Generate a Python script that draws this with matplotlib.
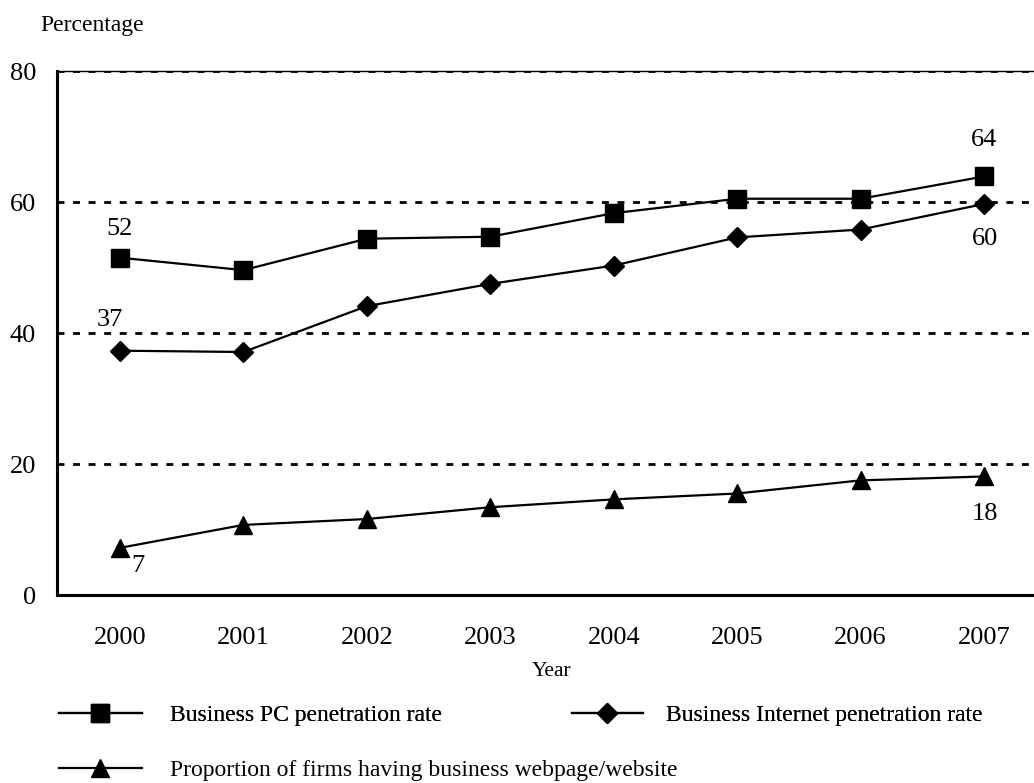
"""Business PC / Internet penetration and website ownership, 2000-2007."""
import matplotlib
matplotlib.use('agg')
import matplotlib.pyplot as plt
from matplotlib.lines import Line2D

plt.rcParams['font.family'] = ['Liberation Serif', 'DejaVu Serif']

years = [2000, 2001, 2002, 2003, 2004, 2005, 2006, 2007]
pc_rate = [51.5, 49.6, 54.4, 54.7, 58.3, 60.5, 60.5, 63.9]
internet_rate = [37.3, 37.1, 44.1, 47.5, 50.3, 54.6, 55.8, 59.7]
website_rate = [7.2, 10.7, 11.6, 13.4, 14.6, 15.5, 17.5, 18.1]

pc_label = 'Business PC penetration rate'
internet_label = 'Business Internet penetration rate'
website_label = 'Proportion of firms having business webpage/website'

y_ticks = [0, 20, 40, 60, 80]

# value labels: (series, index, text, offset in points)
annotations = [
    (pc_rate, 0, '52', (0, 21)),
    (internet_rate, 0, '37', (-7, 22)),
    (website_rate, 0, '7', (13, -13)),
    (pc_rate, 7, '64', (0, 26)),
    (internet_rate, 7, '60', (1, -25)),
    (website_rate, 7, '18', (1, -27)),
]

LW = 1.6
MARKERS = {'pc': ('s', 12.5), 'internet': ('D', 10), 'website': ('^', 13)}


def legend_entry(fig, key, label, x_px, y_px, handlelength, textpad):
    marker, ms = MARKERS[key]
    h = Line2D([], [], color='black', lw=LW, marker=marker, ms=ms)
    leg = fig.legend([h], [label], loc='center left',
                     bbox_to_anchor=(x_px / 1034, 1 - y_px / 783),
                     frameon=False, fontsize=17, handlelength=handlelength,
                     handletextpad=textpad, borderpad=0, borderaxespad=0,
                     numpoints=1)
    return leg


def main():
    fig = plt.figure(figsize=(10.34, 7.83), dpi=100)
    ax = fig.add_axes([57 / 1034, 0.2401, 1 - 57 / 1034, 0.6692])

    ax.set_xlim(1999.49, 2007.405)
    ax.set_ylim(0, 80)

    for y in y_ticks[1:]:
        ax.axhline(y, color='black', lw=2.0, dashes=(2.5, 3.1), zorder=1)

    style = dict(color='black', lw=LW, zorder=3)
    for key, series in (('pc', pc_rate), ('internet', internet_rate),
                        ('website', website_rate)):
        marker, ms = MARKERS[key]
        ax.plot(years, series, marker=marker, ms=ms, **style)

    for series, i, text, off in annotations:
        ax.annotate(text, (years[i], series[i]), xytext=off,
                    textcoords='offset points', ha='center', va='center',
                    fontsize=19)

    ax.spines['right'].set_visible(False)
    ax.spines['top'].set_linewidth(1.0)
    ax.spines['left'].set_linewidth(2.2)
    ax.spines['bottom'].set_linewidth(2.2)

    ax.set_xticks(years)
    ax.set_yticks(y_ticks)
    ax.tick_params(axis='both', length=0, labelsize=19)
    ax.tick_params(axis='y', pad=15)
    ax.tick_params(axis='x', pad=23)

    fig.text(40 / 1034, 1 - 25 / 783, 'Percentage', fontsize=17,
             ha='left', va='center')
    fig.text(552 / 1034, 1 - 672 / 783, 'Year', fontsize=15.5,
             ha='center', va='center')

    legs = [
        legend_entry(fig, 'pc', pc_label, 59, 715, 3.5, 1.2),
        legend_entry(fig, 'internet', internet_label, 572, 715, 3.0, 1.0),
        legend_entry(fig, 'website', website_label, 59, 770, 3.5, 1.2),
    ]
    for leg in legs[:-1]:
        fig.add_artist(leg)

    fig.savefig('out.png', dpi=100)


if __name__ == '__main__':
    main()
